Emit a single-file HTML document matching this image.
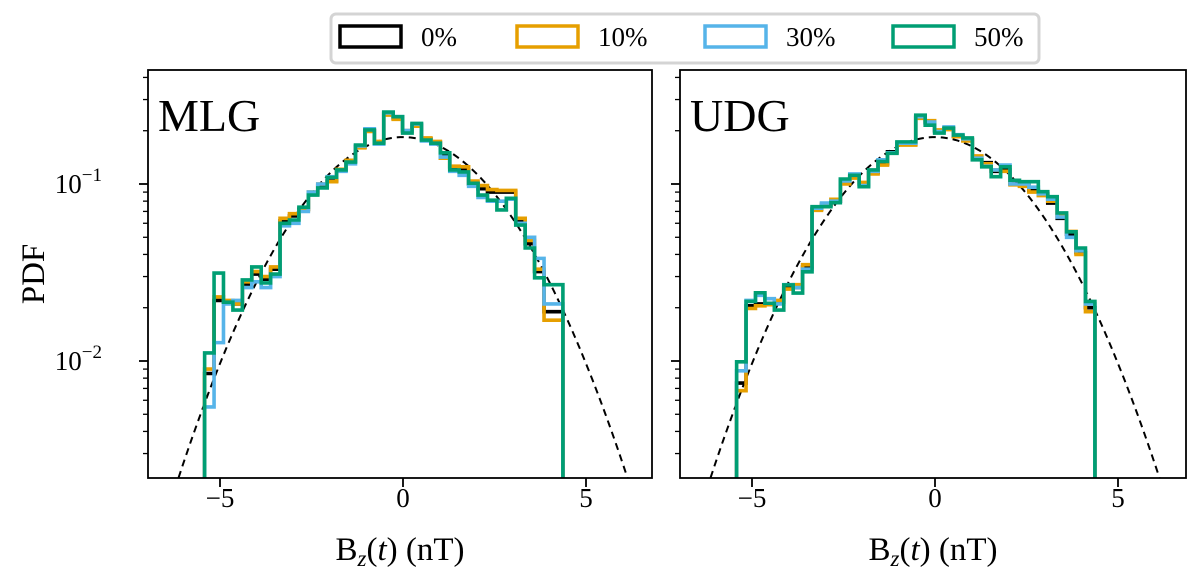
<!DOCTYPE html>
<html><head><meta charset="utf-8">
<style>
body{margin:0;background:#fff;}
svg text{font-family:"Liberation Serif","DejaVu Serif",serif;fill:#000;}
</style></head>
<body>
<svg id="chart" width="1200" height="581" viewBox="0 0 1200 581" xmlns="http://www.w3.org/2000/svg">
<defs>
<clipPath id="clipL"><rect x="148" y="70" width="504" height="408"/></clipPath>
<clipPath id="clipR"><rect x="680" y="70" width="506" height="408"/></clipPath>
</defs>
<g id="root"></g>
</svg>
<script>
const binStart = -5.42;
const binWidth = 0.2576;
const seriesNames = ["0%","10%","30%","50%"];
const seriesColors = ["#000000","#E69F00","#56B4E9","#009E73"];
const mlgGreen = [0.0111,0.0314,0.0215,0.0194,0.0287,0.034,0.0276,0.031,0.060,0.0626,0.074,0.0866,0.095,0.109,0.12,0.133,0.166,0.202,0.17,0.255,0.24,0.194,0.22,0.177,0.17,0.15,0.12,0.117,0.101,0.0866,0.081,0.0714,0.083,0.0586,0.0435,0.0295,0.027,0.027];
const mlgBlack = [0.0085,0.022,0.0215,0.021,0.027,0.031,0.029,0.033,0.062,0.066,0.072,0.088,0.098,0.104,0.12,0.135,0.162,0.2,0.172,0.25,0.235,0.2,0.215,0.18,0.172,0.145,0.124,0.12,0.1,0.094,0.09,0.09,0.09,0.062,0.046,0.032,0.019,0.019];
const mlgOrange = [0.009,0.023,0.022,0.021,0.028,0.032,0.030,0.034,0.064,0.068,0.071,0.09,0.1,0.103,0.121,0.136,0.16,0.198,0.174,0.245,0.232,0.198,0.212,0.182,0.174,0.14,0.126,0.125,0.104,0.098,0.093,0.092,0.092,0.064,0.048,0.033,0.017,0.017];
const mlgBlue = [0.0055,0.0127,0.021,0.022,0.026,0.028,0.026,0.030,0.058,0.06,0.07,0.09,0.1,0.11,0.118,0.13,0.164,0.205,0.168,0.252,0.24,0.2,0.218,0.175,0.168,0.142,0.118,0.112,0.097,0.084,0.08,0.08,0.082,0.06,0.05,0.038,0.021,0.021];
const udgGreen = [0.0099,0.0217,0.0243,0.0212,0.0194,0.0269,0.0242,0.0319,0.0744,0.0744,0.0784,0.1067,0.112,0.0965,0.12,0.134,0.149,0.173,0.173,0.245,0.215,0.194,0.207,0.189,0.182,0.137,0.125,0.11,0.125,0.105,0.103,0.103,0.0905,0.0848,0.0686,0.0537,0.0435,0.0217];
const udgBlack = [0.0075,0.0205,0.021,0.021,0.0215,0.026,0.026,0.034,0.072,0.076,0.08,0.102,0.11,0.1,0.116,0.13,0.152,0.168,0.168,0.238,0.222,0.2,0.205,0.186,0.178,0.142,0.132,0.118,0.12,0.1,0.099,0.092,0.088,0.078,0.064,0.052,0.041,0.02];
const udgOrange = [0.0068,0.0198,0.0205,0.0208,0.022,0.0255,0.027,0.035,0.071,0.077,0.082,0.1,0.108,0.102,0.114,0.128,0.15,0.166,0.166,0.235,0.228,0.202,0.203,0.185,0.175,0.144,0.13,0.12,0.118,0.099,0.097,0.09,0.086,0.08,0.066,0.054,0.04,0.019];
const udgBlue = [0.0088,0.022,0.0235,0.0225,0.021,0.027,0.026,0.033,0.073,0.078,0.08,0.104,0.114,0.098,0.118,0.137,0.15,0.17,0.17,0.24,0.224,0.198,0.21,0.19,0.18,0.14,0.126,0.12,0.128,0.1,0.1,0.096,0.088,0.082,0.065,0.05,0.042,0.021];
const xTicks = [-5,0,5];
const yMajor = [-1,-2];
const gaussSigma = 2.06;
const gaussPeak = 0.184;

const NS="http://www.w3.org/2000/svg";
const root=document.getElementById('root');
function el(tag,attrs,parent){const e=document.createElementNS(NS,tag);for(const k in attrs)e.setAttribute(k,attrs[k]);(parent||root).appendChild(e);return e;}

const panels=[
 {name:"mlg",label:"MLG",left:148,right:652,x0:403,clip:"clipL",data:[mlgBlack,mlgOrange,mlgBlue,mlgGreen],ylabels:true},
 {name:"udg",label:"UDG",left:680,right:1186,x0:935,clip:"clipR",data:[udgBlack,udgOrange,udgBlue,udgGreen],ylabels:false}
];
const plotTop=70,plotBottom=478,pxPerUnit=36.6,pxPerDecade=177,yRef=184;
function yScale(v){return yRef-(Math.log10(v)+1)*pxPerDecade;}

panels.forEach(p=>{
 const g=el('g',{});
 
 
 const xs=v=>p.x0+v*pxPerUnit;
 const plot=el('g',{'clip-path':'url(#'+p.clip+')'},g);
 let d='';
 for(let i=0;i<=200;i++){const x=-7+i*14/200;const v=gaussPeak*Math.exp(-x*x/(2*gaussSigma*gaussSigma));d+=(i?'L':'M')+xs(x).toFixed(2)+','+yScale(v).toFixed(2);}
 const gl=el('path',{d:d,fill:'none',stroke:'#000','stroke-width':2,'stroke-dasharray':'7,5'},plot);
 
 
 p.data.forEach((arr,si)=>{
  let dd='M'+xs(binStart)+','+(plotBottom+5);
  arr.forEach((v,i)=>{const xa=xs(binStart+i*binWidth),xb=xs(binStart+(i+1)*binWidth),y=yScale(v);dd+='L'+xa.toFixed(2)+','+y.toFixed(2)+'L'+xb.toFixed(2)+','+y.toFixed(2);});
  dd+='L'+xs(binStart+arr.length*binWidth).toFixed(2)+','+(plotBottom+5);
  const h=el('path',{d:dd,fill:'none',stroke:seriesColors[si],'stroke-width':3.6,'stroke-linejoin':'miter'},plot);
  
  
 });
 const fr=el('rect',{x:p.left,y:plotTop,width:p.right-p.left,height:plotBottom-plotTop,fill:'none',stroke:'#000','stroke-width':1.8},g);
 
 
 xTicks.forEach(t=>{
  const x=xs(t);
  el('line',{x1:x,x2:x,y1:plotBottom,y2:plotBottom+9,stroke:'#000','stroke-width':1.8},g);
  const tx=el('text',{x:x,y:507,'font-size':27,'text-anchor':'middle'},g);
  tx.textContent=(t<0?'\u2212':'')+Math.abs(t);
  
  
 });
 for(let dec=-3;dec<=-1;dec++){
  for(let m=1;m<=9;m++){
   const v=m*Math.pow(10,dec);const y=yScale(v);
   if(y<plotTop||y>plotBottom)continue;
   const len=m===1?9:5;
   el('line',{x1:p.left-len,x2:p.left,y1:y,y2:y,stroke:'#000','stroke-width':m===1?1.8:1.3},g);
  }
 }
 if(p.ylabels){
  yMajor.forEach(e=>{
   const y=yScale(Math.pow(10,e));
   const t=el('text',{x:102,y:y+9,'font-size':27,'text-anchor':'end'},g);
   t.innerHTML='10<tspan dy="-12" font-size="19">\u2212'+Math.abs(e)+'</tspan>';
   
   
  });
 }
 const lab=el('text',{x:p.left+10,y:131,'font-size':46},g);
 lab.textContent=p.label;
 
 
 const xl=el('text',{x:(p.left+p.right)/2,y:560,'font-size':33,'text-anchor':'middle'},g);
 xl.innerHTML='B<tspan dy="6" font-size="23" font-style="italic">z</tspan><tspan dy="-6">(</tspan><tspan font-style="italic">t</tspan>) (nT)';
 
 
});
const yl=el('text',{x:0,y:0,'font-size':33,'text-anchor':'middle',transform:'translate(44,274) rotate(-90)'});
yl.textContent='PDF';


const lg=el('g',{});


el('rect',{x:331,y:14,width:708,height:49,rx:5,fill:'#fff',stroke:'#d4d4d4','stroke-width':3},lg);
const legX=[340,517,705,893];
seriesNames.forEach((n,i)=>{
 const e=el('g',{},lg);
 
 
 el('rect',{x:legX[i],y:26,width:61,height:21,fill:'none',stroke:seriesColors[i],'stroke-width':3.5},e);
 const t=el('text',{x:legX[i]+81,y:46,'font-size':27},e);
 t.textContent=n;
});
</script>
</body></html>
